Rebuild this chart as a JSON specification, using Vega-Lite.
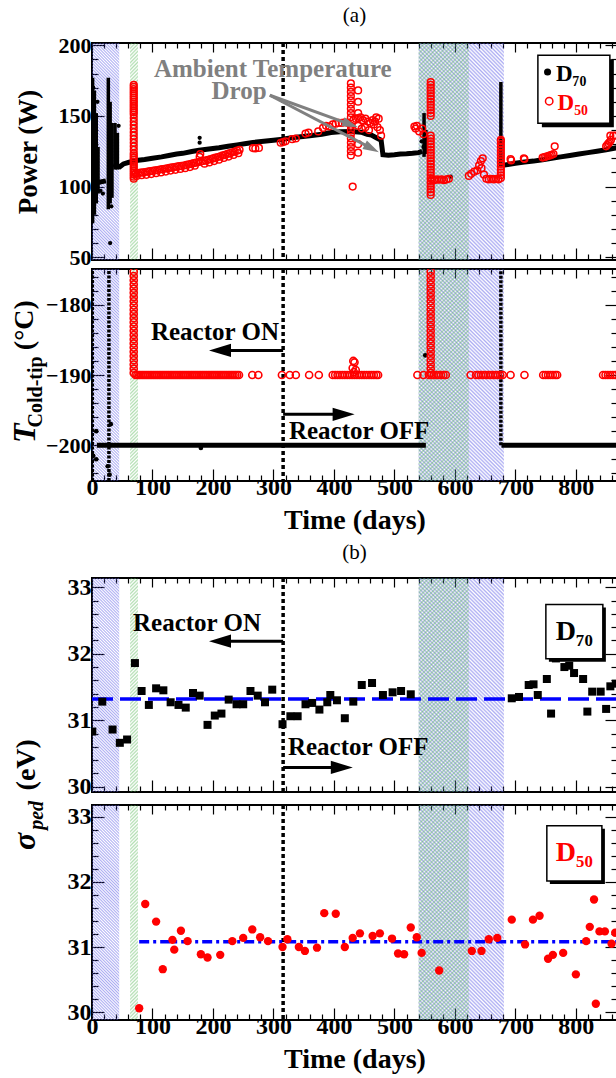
{
"$schema":"https://vega.github.io/schema/vega-lite/v6.json",
"background":"white",
"padding":{"left":8,"top":4,"right":0,"bottom":0},
"params":[
{"name":"hbl","value":{"gradient":"linear","x1":0,"y1":1,"x2":0.141,"y2":-0.11,"stops":[
{"offset":0,"color":"#5a5ae600"},{"offset":0.00625,"color":"#5a5ae680"},{"offset":0.0125,"color":"#5a5ae600"},{"offset":0.01875,"color":"#5a5ae680"},{"offset":0.025,"color":"#5a5ae600"},{"offset":0.03125,"color":"#5a5ae680"},{"offset":0.0375,"color":"#5a5ae600"},{"offset":0.04375,"color":"#5a5ae680"},{"offset":0.05,"color":"#5a5ae600"},{"offset":0.05625,"color":"#5a5ae680"},{"offset":0.0625,"color":"#5a5ae600"},{"offset":0.06875,"color":"#5a5ae680"},{"offset":0.075,"color":"#5a5ae600"},{"offset":0.08125,"color":"#5a5ae680"},{"offset":0.0875,"color":"#5a5ae600"},{"offset":0.09375,"color":"#5a5ae680"},
{"offset":0.1,"color":"#5a5ae600"},{"offset":0.10625,"color":"#5a5ae680"},{"offset":0.1125,"color":"#5a5ae600"},{"offset":0.11875,"color":"#5a5ae680"},{"offset":0.125,"color":"#5a5ae600"},{"offset":0.13125,"color":"#5a5ae680"},{"offset":0.1375,"color":"#5a5ae600"},{"offset":0.14375,"color":"#5a5ae680"},{"offset":0.15,"color":"#5a5ae600"},{"offset":0.15625,"color":"#5a5ae680"},{"offset":0.1625,"color":"#5a5ae600"},{"offset":0.16875,"color":"#5a5ae680"},{"offset":0.175,"color":"#5a5ae600"},{"offset":0.18125,"color":"#5a5ae680"},{"offset":0.1875,"color":"#5a5ae600"},{"offset":0.19375,"color":"#5a5ae680"},
{"offset":0.2,"color":"#5a5ae600"},{"offset":0.20625,"color":"#5a5ae680"},{"offset":0.2125,"color":"#5a5ae600"},{"offset":0.21875,"color":"#5a5ae680"},{"offset":0.225,"color":"#5a5ae600"},{"offset":0.23125,"color":"#5a5ae680"},{"offset":0.2375,"color":"#5a5ae600"},{"offset":0.24375,"color":"#5a5ae680"},{"offset":0.25,"color":"#5a5ae600"},{"offset":0.25625,"color":"#5a5ae680"},{"offset":0.2625,"color":"#5a5ae600"},{"offset":0.26875,"color":"#5a5ae680"},{"offset":0.275,"color":"#5a5ae600"},{"offset":0.28125,"color":"#5a5ae680"},{"offset":0.2875,"color":"#5a5ae600"},{"offset":0.29375,"color":"#5a5ae680"},
{"offset":0.3,"color":"#5a5ae600"},{"offset":0.30625,"color":"#5a5ae680"},{"offset":0.3125,"color":"#5a5ae600"},{"offset":0.31875,"color":"#5a5ae680"},{"offset":0.325,"color":"#5a5ae600"},{"offset":0.33125,"color":"#5a5ae680"},{"offset":0.3375,"color":"#5a5ae600"},{"offset":0.34375,"color":"#5a5ae680"},{"offset":0.35,"color":"#5a5ae600"},{"offset":0.35625,"color":"#5a5ae680"},{"offset":0.3625,"color":"#5a5ae600"},{"offset":0.36875,"color":"#5a5ae680"},{"offset":0.375,"color":"#5a5ae600"},{"offset":0.38125,"color":"#5a5ae680"},{"offset":0.3875,"color":"#5a5ae600"},{"offset":0.39375,"color":"#5a5ae680"},
{"offset":0.4,"color":"#5a5ae600"},{"offset":0.40625,"color":"#5a5ae680"},{"offset":0.4125,"color":"#5a5ae600"},{"offset":0.41875,"color":"#5a5ae680"},{"offset":0.425,"color":"#5a5ae600"},{"offset":0.43125,"color":"#5a5ae680"},{"offset":0.4375,"color":"#5a5ae600"},{"offset":0.44375,"color":"#5a5ae680"},{"offset":0.45,"color":"#5a5ae600"},{"offset":0.45625,"color":"#5a5ae680"},{"offset":0.4625,"color":"#5a5ae600"},{"offset":0.46875,"color":"#5a5ae680"},{"offset":0.475,"color":"#5a5ae600"},{"offset":0.48125,"color":"#5a5ae680"},{"offset":0.4875,"color":"#5a5ae600"},{"offset":0.49375,"color":"#5a5ae680"},
{"offset":0.5,"color":"#5a5ae600"},{"offset":0.50625,"color":"#5a5ae680"},{"offset":0.5125,"color":"#5a5ae600"},{"offset":0.51875,"color":"#5a5ae680"},{"offset":0.525,"color":"#5a5ae600"},{"offset":0.53125,"color":"#5a5ae680"},{"offset":0.5375,"color":"#5a5ae600"},{"offset":0.54375,"color":"#5a5ae680"},{"offset":0.55,"color":"#5a5ae600"},{"offset":0.55625,"color":"#5a5ae680"},{"offset":0.5625,"color":"#5a5ae600"},{"offset":0.56875,"color":"#5a5ae680"},{"offset":0.575,"color":"#5a5ae600"},{"offset":0.58125,"color":"#5a5ae680"},{"offset":0.5875,"color":"#5a5ae600"},{"offset":0.59375,"color":"#5a5ae680"},
{"offset":0.6,"color":"#5a5ae600"},{"offset":0.60625,"color":"#5a5ae680"},{"offset":0.6125,"color":"#5a5ae600"},{"offset":0.61875,"color":"#5a5ae680"},{"offset":0.625,"color":"#5a5ae600"},{"offset":0.63125,"color":"#5a5ae680"},{"offset":0.6375,"color":"#5a5ae600"},{"offset":0.64375,"color":"#5a5ae680"},{"offset":0.65,"color":"#5a5ae600"},{"offset":0.65625,"color":"#5a5ae680"},{"offset":0.6625,"color":"#5a5ae600"},{"offset":0.66875,"color":"#5a5ae680"},{"offset":0.675,"color":"#5a5ae600"},{"offset":0.68125,"color":"#5a5ae680"},{"offset":0.6875,"color":"#5a5ae600"},{"offset":0.69375,"color":"#5a5ae680"},
{"offset":0.7,"color":"#5a5ae600"},{"offset":0.70625,"color":"#5a5ae680"},{"offset":0.7125,"color":"#5a5ae600"},{"offset":0.71875,"color":"#5a5ae680"},{"offset":0.725,"color":"#5a5ae600"},{"offset":0.73125,"color":"#5a5ae680"},{"offset":0.7375,"color":"#5a5ae600"},{"offset":0.74375,"color":"#5a5ae680"},{"offset":0.75,"color":"#5a5ae600"},{"offset":0.75625,"color":"#5a5ae680"},{"offset":0.7625,"color":"#5a5ae600"},{"offset":0.76875,"color":"#5a5ae680"},{"offset":0.775,"color":"#5a5ae600"},{"offset":0.78125,"color":"#5a5ae680"},{"offset":0.7875,"color":"#5a5ae600"},{"offset":0.79375,"color":"#5a5ae680"},
{"offset":0.8,"color":"#5a5ae600"},{"offset":0.80625,"color":"#5a5ae680"},{"offset":0.8125,"color":"#5a5ae600"},{"offset":0.81875,"color":"#5a5ae680"},{"offset":0.825,"color":"#5a5ae600"},{"offset":0.83125,"color":"#5a5ae680"},{"offset":0.8375,"color":"#5a5ae600"},{"offset":0.84375,"color":"#5a5ae680"},{"offset":0.85,"color":"#5a5ae600"},{"offset":0.85625,"color":"#5a5ae680"},{"offset":0.8625,"color":"#5a5ae600"},{"offset":0.86875,"color":"#5a5ae680"},{"offset":0.875,"color":"#5a5ae600"},{"offset":0.88125,"color":"#5a5ae680"},{"offset":0.8875,"color":"#5a5ae600"},{"offset":0.89375,"color":"#5a5ae680"},
{"offset":0.9,"color":"#5a5ae600"},{"offset":0.90625,"color":"#5a5ae680"},{"offset":0.9125,"color":"#5a5ae600"},{"offset":0.91875,"color":"#5a5ae680"},{"offset":0.925,"color":"#5a5ae600"},{"offset":0.93125,"color":"#5a5ae680"},{"offset":0.9375,"color":"#5a5ae600"},{"offset":0.94375,"color":"#5a5ae680"},{"offset":0.95,"color":"#5a5ae600"},{"offset":0.95625,"color":"#5a5ae680"},{"offset":0.9625,"color":"#5a5ae600"},{"offset":0.96875,"color":"#5a5ae680"},{"offset":0.975,"color":"#5a5ae600"},{"offset":0.98125,"color":"#5a5ae680"},{"offset":0.9875,"color":"#5a5ae600"},{"offset":0.99375,"color":"#5a5ae680"},{"offset":1,"color":"#5a5ae600"}]}},
{"name":"hbr","value":{"gradient":"linear","x1":0,"y1":1,"x2":0.481,"y2":-0.207,"stops":[
{"offset":0,"color":"#5a5ae600"},{"offset":0.00625,"color":"#5a5ae680"},{"offset":0.0125,"color":"#5a5ae600"},{"offset":0.01875,"color":"#5a5ae680"},{"offset":0.025,"color":"#5a5ae600"},{"offset":0.03125,"color":"#5a5ae680"},{"offset":0.0375,"color":"#5a5ae600"},{"offset":0.04375,"color":"#5a5ae680"},{"offset":0.05,"color":"#5a5ae600"},{"offset":0.05625,"color":"#5a5ae680"},{"offset":0.0625,"color":"#5a5ae600"},{"offset":0.06875,"color":"#5a5ae680"},{"offset":0.075,"color":"#5a5ae600"},{"offset":0.08125,"color":"#5a5ae680"},{"offset":0.0875,"color":"#5a5ae600"},{"offset":0.09375,"color":"#5a5ae680"},
{"offset":0.1,"color":"#5a5ae600"},{"offset":0.10625,"color":"#5a5ae680"},{"offset":0.1125,"color":"#5a5ae600"},{"offset":0.11875,"color":"#5a5ae680"},{"offset":0.125,"color":"#5a5ae600"},{"offset":0.13125,"color":"#5a5ae680"},{"offset":0.1375,"color":"#5a5ae600"},{"offset":0.14375,"color":"#5a5ae680"},{"offset":0.15,"color":"#5a5ae600"},{"offset":0.15625,"color":"#5a5ae680"},{"offset":0.1625,"color":"#5a5ae600"},{"offset":0.16875,"color":"#5a5ae680"},{"offset":0.175,"color":"#5a5ae600"},{"offset":0.18125,"color":"#5a5ae680"},{"offset":0.1875,"color":"#5a5ae600"},{"offset":0.19375,"color":"#5a5ae680"},
{"offset":0.2,"color":"#5a5ae600"},{"offset":0.20625,"color":"#5a5ae680"},{"offset":0.2125,"color":"#5a5ae600"},{"offset":0.21875,"color":"#5a5ae680"},{"offset":0.225,"color":"#5a5ae600"},{"offset":0.23125,"color":"#5a5ae680"},{"offset":0.2375,"color":"#5a5ae600"},{"offset":0.24375,"color":"#5a5ae680"},{"offset":0.25,"color":"#5a5ae600"},{"offset":0.25625,"color":"#5a5ae680"},{"offset":0.2625,"color":"#5a5ae600"},{"offset":0.26875,"color":"#5a5ae680"},{"offset":0.275,"color":"#5a5ae600"},{"offset":0.28125,"color":"#5a5ae680"},{"offset":0.2875,"color":"#5a5ae600"},{"offset":0.29375,"color":"#5a5ae680"},
{"offset":0.3,"color":"#5a5ae600"},{"offset":0.30625,"color":"#5a5ae680"},{"offset":0.3125,"color":"#5a5ae600"},{"offset":0.31875,"color":"#5a5ae680"},{"offset":0.325,"color":"#5a5ae600"},{"offset":0.33125,"color":"#5a5ae680"},{"offset":0.3375,"color":"#5a5ae600"},{"offset":0.34375,"color":"#5a5ae680"},{"offset":0.35,"color":"#5a5ae600"},{"offset":0.35625,"color":"#5a5ae680"},{"offset":0.3625,"color":"#5a5ae600"},{"offset":0.36875,"color":"#5a5ae680"},{"offset":0.375,"color":"#5a5ae600"},{"offset":0.38125,"color":"#5a5ae680"},{"offset":0.3875,"color":"#5a5ae600"},{"offset":0.39375,"color":"#5a5ae680"},
{"offset":0.4,"color":"#5a5ae600"},{"offset":0.40625,"color":"#5a5ae680"},{"offset":0.4125,"color":"#5a5ae600"},{"offset":0.41875,"color":"#5a5ae680"},{"offset":0.425,"color":"#5a5ae600"},{"offset":0.43125,"color":"#5a5ae680"},{"offset":0.4375,"color":"#5a5ae600"},{"offset":0.44375,"color":"#5a5ae680"},{"offset":0.45,"color":"#5a5ae600"},{"offset":0.45625,"color":"#5a5ae680"},{"offset":0.4625,"color":"#5a5ae600"},{"offset":0.46875,"color":"#5a5ae680"},{"offset":0.475,"color":"#5a5ae600"},{"offset":0.48125,"color":"#5a5ae680"},{"offset":0.4875,"color":"#5a5ae600"},{"offset":0.49375,"color":"#5a5ae680"},
{"offset":0.5,"color":"#5a5ae600"},{"offset":0.50625,"color":"#5a5ae680"},{"offset":0.5125,"color":"#5a5ae600"},{"offset":0.51875,"color":"#5a5ae680"},{"offset":0.525,"color":"#5a5ae600"},{"offset":0.53125,"color":"#5a5ae680"},{"offset":0.5375,"color":"#5a5ae600"},{"offset":0.54375,"color":"#5a5ae680"},{"offset":0.55,"color":"#5a5ae600"},{"offset":0.55625,"color":"#5a5ae680"},{"offset":0.5625,"color":"#5a5ae600"},{"offset":0.56875,"color":"#5a5ae680"},{"offset":0.575,"color":"#5a5ae600"},{"offset":0.58125,"color":"#5a5ae680"},{"offset":0.5875,"color":"#5a5ae600"},{"offset":0.59375,"color":"#5a5ae680"},
{"offset":0.6,"color":"#5a5ae600"},{"offset":0.60625,"color":"#5a5ae680"},{"offset":0.6125,"color":"#5a5ae600"},{"offset":0.61875,"color":"#5a5ae680"},{"offset":0.625,"color":"#5a5ae600"},{"offset":0.63125,"color":"#5a5ae680"},{"offset":0.6375,"color":"#5a5ae600"},{"offset":0.64375,"color":"#5a5ae680"},{"offset":0.65,"color":"#5a5ae600"},{"offset":0.65625,"color":"#5a5ae680"},{"offset":0.6625,"color":"#5a5ae600"},{"offset":0.66875,"color":"#5a5ae680"},{"offset":0.675,"color":"#5a5ae600"},{"offset":0.68125,"color":"#5a5ae680"},{"offset":0.6875,"color":"#5a5ae600"},{"offset":0.69375,"color":"#5a5ae680"},
{"offset":0.7,"color":"#5a5ae600"},{"offset":0.70625,"color":"#5a5ae680"},{"offset":0.7125,"color":"#5a5ae600"},{"offset":0.71875,"color":"#5a5ae680"},{"offset":0.725,"color":"#5a5ae600"},{"offset":0.73125,"color":"#5a5ae680"},{"offset":0.7375,"color":"#5a5ae600"},{"offset":0.74375,"color":"#5a5ae680"},{"offset":0.75,"color":"#5a5ae600"},{"offset":0.75625,"color":"#5a5ae680"},{"offset":0.7625,"color":"#5a5ae600"},{"offset":0.76875,"color":"#5a5ae680"},{"offset":0.775,"color":"#5a5ae600"},{"offset":0.78125,"color":"#5a5ae680"},{"offset":0.7875,"color":"#5a5ae600"},{"offset":0.79375,"color":"#5a5ae680"},
{"offset":0.8,"color":"#5a5ae600"},{"offset":0.80625,"color":"#5a5ae680"},{"offset":0.8125,"color":"#5a5ae600"},{"offset":0.81875,"color":"#5a5ae680"},{"offset":0.825,"color":"#5a5ae600"},{"offset":0.83125,"color":"#5a5ae680"},{"offset":0.8375,"color":"#5a5ae600"},{"offset":0.84375,"color":"#5a5ae680"},{"offset":0.85,"color":"#5a5ae600"},{"offset":0.85625,"color":"#5a5ae680"},{"offset":0.8625,"color":"#5a5ae600"},{"offset":0.86875,"color":"#5a5ae680"},{"offset":0.875,"color":"#5a5ae600"},{"offset":0.88125,"color":"#5a5ae680"},{"offset":0.8875,"color":"#5a5ae600"},{"offset":0.89375,"color":"#5a5ae680"},
{"offset":0.9,"color":"#5a5ae600"},{"offset":0.90625,"color":"#5a5ae680"},{"offset":0.9125,"color":"#5a5ae600"},{"offset":0.91875,"color":"#5a5ae680"},{"offset":0.925,"color":"#5a5ae600"},{"offset":0.93125,"color":"#5a5ae680"},{"offset":0.9375,"color":"#5a5ae600"},{"offset":0.94375,"color":"#5a5ae680"},{"offset":0.95,"color":"#5a5ae600"},{"offset":0.95625,"color":"#5a5ae680"},{"offset":0.9625,"color":"#5a5ae600"},{"offset":0.96875,"color":"#5a5ae680"},{"offset":0.975,"color":"#5a5ae600"},{"offset":0.98125,"color":"#5a5ae680"},{"offset":0.9875,"color":"#5a5ae600"},{"offset":0.99375,"color":"#5a5ae680"},{"offset":1,"color":"#5a5ae600"}]}},
{"name":"hgl","value":{"gradient":"linear","x1":0,"y1":0,"x2":0.0382,"y2":1.035,"stops":[
{"offset":0,"color":"#50b45000"},{"offset":0.008,"color":"#50b45070"},{"offset":0.016,"color":"#50b45000"},{"offset":0.024,"color":"#50b45070"},{"offset":0.032,"color":"#50b45000"},{"offset":0.04,"color":"#50b45070"},{"offset":0.048,"color":"#50b45000"},{"offset":0.056,"color":"#50b45070"},{"offset":0.064,"color":"#50b45000"},{"offset":0.072,"color":"#50b45070"},{"offset":0.08,"color":"#50b45000"},{"offset":0.088,"color":"#50b45070"},{"offset":0.096,"color":"#50b45000"},{"offset":0.104,"color":"#50b45070"},{"offset":0.112,"color":"#50b45000"},{"offset":0.12,"color":"#50b45070"},{"offset":0.128,"color":"#50b45000"},{"offset":0.136,"color":"#50b45070"},{"offset":0.144,"color":"#50b45000"},{"offset":0.152,"color":"#50b45070"},{"offset":0.16,"color":"#50b45000"},{"offset":0.168,"color":"#50b45070"},{"offset":0.176,"color":"#50b45000"},{"offset":0.184,"color":"#50b45070"},{"offset":0.192,"color":"#50b45000"},{"offset":0.2,"color":"#50b45070"},{"offset":0.208,"color":"#50b45000"},{"offset":0.216,"color":"#50b45070"},{"offset":0.224,"color":"#50b45000"},{"offset":0.232,"color":"#50b45070"},{"offset":0.24,"color":"#50b45000"},{"offset":0.248,"color":"#50b45070"},{"offset":0.256,"color":"#50b45000"},{"offset":0.264,"color":"#50b45070"},{"offset":0.272,"color":"#50b45000"},{"offset":0.28,"color":"#50b45070"},{"offset":0.288,"color":"#50b45000"},{"offset":0.296,"color":"#50b45070"},{"offset":0.304,"color":"#50b45000"},{"offset":0.312,"color":"#50b45070"},{"offset":0.32,"color":"#50b45000"},{"offset":0.328,"color":"#50b45070"},{"offset":0.336,"color":"#50b45000"},{"offset":0.344,"color":"#50b45070"},{"offset":0.352,"color":"#50b45000"},{"offset":0.36,"color":"#50b45070"},{"offset":0.368,"color":"#50b45000"},{"offset":0.376,"color":"#50b45070"},{"offset":0.384,"color":"#50b45000"},{"offset":0.392,"color":"#50b45070"},{"offset":0.4,"color":"#50b45000"},{"offset":0.408,"color":"#50b45070"},{"offset":0.416,"color":"#50b45000"},{"offset":0.424,"color":"#50b45070"},{"offset":0.432,"color":"#50b45000"},{"offset":0.44,"color":"#50b45070"},{"offset":0.448,"color":"#50b45000"},{"offset":0.456,"color":"#50b45070"},{"offset":0.464,"color":"#50b45000"},{"offset":0.472,"color":"#50b45070"},{"offset":0.48,"color":"#50b45000"},{"offset":0.488,"color":"#50b45070"},{"offset":0.496,"color":"#50b45000"},{"offset":0.504,"color":"#50b45070"},{"offset":0.512,"color":"#50b45000"},{"offset":0.52,"color":"#50b45070"},{"offset":0.528,"color":"#50b45000"},{"offset":0.536,"color":"#50b45070"},{"offset":0.544,"color":"#50b45000"},{"offset":0.552,"color":"#50b45070"},{"offset":0.56,"color":"#50b45000"},{"offset":0.568,"color":"#50b45070"},{"offset":0.576,"color":"#50b45000"},{"offset":0.584,"color":"#50b45070"},{"offset":0.592,"color":"#50b45000"},{"offset":0.6,"color":"#50b45070"},{"offset":0.608,"color":"#50b45000"},{"offset":0.616,"color":"#50b45070"},{"offset":0.624,"color":"#50b45000"},{"offset":0.632,"color":"#50b45070"},{"offset":0.64,"color":"#50b45000"},{"offset":0.648,"color":"#50b45070"},{"offset":0.656,"color":"#50b45000"},{"offset":0.664,"color":"#50b45070"},{"offset":0.672,"color":"#50b45000"},{"offset":0.68,"color":"#50b45070"},{"offset":0.688,"color":"#50b45000"},{"offset":0.696,"color":"#50b45070"},{"offset":0.704,"color":"#50b45000"},{"offset":0.712,"color":"#50b45070"},{"offset":0.72,"color":"#50b45000"},{"offset":0.728,"color":"#50b45070"},{"offset":0.736,"color":"#50b45000"},{"offset":0.744,"color":"#50b45070"},{"offset":0.752,"color":"#50b45000"},{"offset":0.76,"color":"#50b45070"},{"offset":0.768,"color":"#50b45000"},{"offset":0.776,"color":"#50b45070"},{"offset":0.784,"color":"#50b45000"},{"offset":0.792,"color":"#50b45070"},{"offset":0.8,"color":"#50b45000"},{"offset":0.808,"color":"#50b45070"},{"offset":0.816,"color":"#50b45000"},{"offset":0.824,"color":"#50b45070"},{"offset":0.832,"color":"#50b45000"},{"offset":0.84,"color":"#50b45070"},{"offset":0.848,"color":"#50b45000"},{"offset":0.856,"color":"#50b45070"},{"offset":0.864,"color":"#50b45000"},{"offset":0.872,"color":"#50b45070"},{"offset":0.88,"color":"#50b45000"},{"offset":0.888,"color":"#50b45070"},{"offset":0.896,"color":"#50b45000"},{"offset":0.904,"color":"#50b45070"},{"offset":0.912,"color":"#50b45000"},{"offset":0.92,"color":"#50b45070"},{"offset":0.928,"color":"#50b45000"},{"offset":0.936,"color":"#50b45070"},{"offset":0.944,"color":"#50b45000"},{"offset":0.952,"color":"#50b45070"},{"offset":0.96,"color":"#50b45000"},{"offset":0.968,"color":"#50b45070"},{"offset":0.976,"color":"#50b45000"},{"offset":0.984,"color":"#50b45070"},{"offset":0.992,"color":"#50b45000"},{"offset":1,"color":"#50b45070"}]}},
{"name":"hgr","value":{"gradient":"linear","x1":0,"y1":0,"x2":0.2745,"y2":1.17,"stops":[
{"offset":0,"color":"#50b45000"},{"offset":0.008,"color":"#50b45070"},{"offset":0.016,"color":"#50b45000"},{"offset":0.024,"color":"#50b45070"},{"offset":0.032,"color":"#50b45000"},{"offset":0.04,"color":"#50b45070"},{"offset":0.048,"color":"#50b45000"},{"offset":0.056,"color":"#50b45070"},{"offset":0.064,"color":"#50b45000"},{"offset":0.072,"color":"#50b45070"},{"offset":0.08,"color":"#50b45000"},{"offset":0.088,"color":"#50b45070"},{"offset":0.096,"color":"#50b45000"},{"offset":0.104,"color":"#50b45070"},{"offset":0.112,"color":"#50b45000"},{"offset":0.12,"color":"#50b45070"},{"offset":0.128,"color":"#50b45000"},{"offset":0.136,"color":"#50b45070"},{"offset":0.144,"color":"#50b45000"},{"offset":0.152,"color":"#50b45070"},{"offset":0.16,"color":"#50b45000"},{"offset":0.168,"color":"#50b45070"},{"offset":0.176,"color":"#50b45000"},{"offset":0.184,"color":"#50b45070"},{"offset":0.192,"color":"#50b45000"},{"offset":0.2,"color":"#50b45070"},{"offset":0.208,"color":"#50b45000"},{"offset":0.216,"color":"#50b45070"},{"offset":0.224,"color":"#50b45000"},{"offset":0.232,"color":"#50b45070"},{"offset":0.24,"color":"#50b45000"},{"offset":0.248,"color":"#50b45070"},{"offset":0.256,"color":"#50b45000"},{"offset":0.264,"color":"#50b45070"},{"offset":0.272,"color":"#50b45000"},{"offset":0.28,"color":"#50b45070"},{"offset":0.288,"color":"#50b45000"},{"offset":0.296,"color":"#50b45070"},{"offset":0.304,"color":"#50b45000"},{"offset":0.312,"color":"#50b45070"},{"offset":0.32,"color":"#50b45000"},{"offset":0.328,"color":"#50b45070"},{"offset":0.336,"color":"#50b45000"},{"offset":0.344,"color":"#50b45070"},{"offset":0.352,"color":"#50b45000"},{"offset":0.36,"color":"#50b45070"},{"offset":0.368,"color":"#50b45000"},{"offset":0.376,"color":"#50b45070"},{"offset":0.384,"color":"#50b45000"},{"offset":0.392,"color":"#50b45070"},{"offset":0.4,"color":"#50b45000"},{"offset":0.408,"color":"#50b45070"},{"offset":0.416,"color":"#50b45000"},{"offset":0.424,"color":"#50b45070"},{"offset":0.432,"color":"#50b45000"},{"offset":0.44,"color":"#50b45070"},{"offset":0.448,"color":"#50b45000"},{"offset":0.456,"color":"#50b45070"},{"offset":0.464,"color":"#50b45000"},{"offset":0.472,"color":"#50b45070"},{"offset":0.48,"color":"#50b45000"},{"offset":0.488,"color":"#50b45070"},{"offset":0.496,"color":"#50b45000"},{"offset":0.504,"color":"#50b45070"},{"offset":0.512,"color":"#50b45000"},{"offset":0.52,"color":"#50b45070"},{"offset":0.528,"color":"#50b45000"},{"offset":0.536,"color":"#50b45070"},{"offset":0.544,"color":"#50b45000"},{"offset":0.552,"color":"#50b45070"},{"offset":0.56,"color":"#50b45000"},{"offset":0.568,"color":"#50b45070"},{"offset":0.576,"color":"#50b45000"},{"offset":0.584,"color":"#50b45070"},{"offset":0.592,"color":"#50b45000"},{"offset":0.6,"color":"#50b45070"},{"offset":0.608,"color":"#50b45000"},{"offset":0.616,"color":"#50b45070"},{"offset":0.624,"color":"#50b45000"},{"offset":0.632,"color":"#50b45070"},{"offset":0.64,"color":"#50b45000"},{"offset":0.648,"color":"#50b45070"},{"offset":0.656,"color":"#50b45000"},{"offset":0.664,"color":"#50b45070"},{"offset":0.672,"color":"#50b45000"},{"offset":0.68,"color":"#50b45070"},{"offset":0.688,"color":"#50b45000"},{"offset":0.696,"color":"#50b45070"},{"offset":0.704,"color":"#50b45000"},{"offset":0.712,"color":"#50b45070"},{"offset":0.72,"color":"#50b45000"},{"offset":0.728,"color":"#50b45070"},{"offset":0.736,"color":"#50b45000"},{"offset":0.744,"color":"#50b45070"},{"offset":0.752,"color":"#50b45000"},{"offset":0.76,"color":"#50b45070"},{"offset":0.768,"color":"#50b45000"},{"offset":0.776,"color":"#50b45070"},{"offset":0.784,"color":"#50b45000"},{"offset":0.792,"color":"#50b45070"},{"offset":0.8,"color":"#50b45000"},{"offset":0.808,"color":"#50b45070"},{"offset":0.816,"color":"#50b45000"},{"offset":0.824,"color":"#50b45070"},{"offset":0.832,"color":"#50b45000"},{"offset":0.84,"color":"#50b45070"},{"offset":0.848,"color":"#50b45000"},{"offset":0.856,"color":"#50b45070"},{"offset":0.864,"color":"#50b45000"},{"offset":0.872,"color":"#50b45070"},{"offset":0.88,"color":"#50b45000"},{"offset":0.888,"color":"#50b45070"},{"offset":0.896,"color":"#50b45000"},{"offset":0.904,"color":"#50b45070"},{"offset":0.912,"color":"#50b45000"},{"offset":0.92,"color":"#50b45070"},{"offset":0.928,"color":"#50b45000"},{"offset":0.936,"color":"#50b45070"},{"offset":0.944,"color":"#50b45000"},{"offset":0.952,"color":"#50b45070"},{"offset":0.96,"color":"#50b45000"},{"offset":0.968,"color":"#50b45070"},{"offset":0.976,"color":"#50b45000"},{"offset":0.984,"color":"#50b45070"},{"offset":0.992,"color":"#50b45000"},{"offset":1,"color":"#50b45070"}]}}
],
"datasets":{
"pw70line":[{"t":3,"v":103.5,"g":1},{"t":12,"v":103,"g":1},{"t":23,"v":104,"g":1},
{"t":36,"v":116,"g":2},{"t":41,"v":114.5,"g":2},{"t":46,"v":114,"g":2},{"t":52,"v":116,"g":2},{"t":60,"v":117,"g":2},{"t":73,"v":118.5,"g":2},{"t":87,"v":119.2,"g":2},{"t":100,"v":120,"g":2},{"t":115,"v":121,"g":2},{"t":127,"v":122,"g":2},{"t":140,"v":123,"g":2},{"t":150,"v":123.5,"g":2},{"t":165,"v":124.8,"g":2},{"t":177,"v":125.7,"g":2},{"t":190,"v":126.4,"g":2},{"t":210,"v":127.5,"g":2},{"t":225,"v":128.5,"g":2},{"t":240,"v":129.5,"g":2},{"t":255,"v":130.5,"g":2},{"t":266,"v":131.2,"g":2},{"t":280,"v":131.8,"g":2},{"t":300,"v":132.8,"g":2},{"t":315,"v":133.5,"g":2},{"t":330,"v":134.5,"g":2},{"t":345,"v":135.3,"g":2},{"t":360,"v":136,"g":2},{"t":380,"v":137,"g":2},{"t":395,"v":138.3,"g":2},{"t":410,"v":138.8,"g":2},{"t":430,"v":139,"g":2},{"t":445,"v":138.5,"g":2},{"t":455,"v":137,"g":2},{"t":462,"v":136.4,"g":2},{"t":470,"v":134.5,"g":2},{"t":478,"v":132.8,"g":2},{"t":481,"v":122.5,"g":2},{"t":490,"v":122.2,"g":2},{"t":500,"v":122.5,"g":2},{"t":510,"v":123,"g":2},{"t":520,"v":123.2,"g":2},{"t":530,"v":123.5,"g":2},{"t":540,"v":124,"g":2},{"t":546,"v":125,"g":2},
{"t":679,"v":115,"g":3},{"t":690,"v":115.8,"g":3},{"t":700,"v":116.5,"g":3},{"t":715,"v":117.3,"g":3},{"t":730,"v":118,"g":3},{"t":745,"v":119,"g":3},{"t":760,"v":120,"g":3},{"t":775,"v":121,"g":3},{"t":790,"v":122,"g":3},{"t":805,"v":123,"g":3},{"t":820,"v":124,"g":3},{"t":835,"v":125,"g":3},{"t":850,"v":126,"g":3},{"t":868,"v":127.5,"g":3}],
"pw70rule":[{"t":1,"v":74,"v2":177},{"t":4,"v":80,"v2":168},{"t":7,"v":88,"v2":152},{"t":10,"v":95,"v2":128},{"t":27,"v":84,"v2":177},{"t":30,"v":88,"v2":160},{"t":33,"v":92,"v2":145},{"t":38,"v":112,"v2":145},{"t":42,"v":112,"v2":138},{"t":549,"v":121,"v2":152},{"t":552,"v":123,"v2":140},{"t":676,"v":114,"v2":174}],
"pw70pt":[{"t":0,"v":76},{"t":30,"v":60},{"t":32,"v":86},{"t":178,"v":134.5},{"t":178,"v":131},{"t":593,"v":107},{"t":2,"v":170},{"t":9,"v":160},{"t":14,"v":97},{"t":18,"v":95},{"t":44,"v":143},{"t":545,"v":132},{"t":548,"v":128}],
"pw50":[{"t":69,"v":172},{"t":69,"v":170.5},{"t":69,"v":169},{"t":69,"v":167.5},{"t":69,"v":166},{"t":69,"v":164.5},{"t":69,"v":163},{"t":69,"v":161.5},{"t":69,"v":160},{"t":69,"v":158.5},{"t":69,"v":157},{"t":69,"v":155.5},{"t":69,"v":154},{"t":69,"v":152.5},{"t":69,"v":151},{"t":69,"v":148.5},{"t":69,"v":146},{"t":69,"v":143.5},{"t":69,"v":141},{"t":69,"v":138.5},{"t":69,"v":136},{"t":69,"v":133.5},{"t":69,"v":131},{"t":69,"v":128.5},{"t":69,"v":126},{"t":69,"v":123.5},{"t":69,"v":122},{"t":69,"v":120.5},{"t":69,"v":119},{"t":69,"v":117.5},{"t":69,"v":116},{"t":69,"v":114.5},{"t":69,"v":113},{"t":69,"v":111.5},{"t":69,"v":110},{"t":69,"v":108.5},{"t":69,"v":107},{"t":69,"v":105.5},
{"t":72,"v":109.3},{"t":76,"v":109.5},{"t":80,"v":109.8},{"t":84,"v":110},{"t":88,"v":110.3},{"t":92,"v":110.6},{"t":96,"v":110.9},{"t":100,"v":111.1},{"t":104,"v":111.4},{"t":108,"v":111.7},{"t":112,"v":112},{"t":116,"v":112.3},{"t":120,"v":112.6},{"t":124,"v":112.9},{"t":128,"v":113.2},{"t":132,"v":113.5},{"t":136,"v":113.8},{"t":140,"v":114.1},{"t":144,"v":114.4},{"t":148,"v":114.6},{"t":152,"v":114.9},{"t":156,"v":115.3},{"t":160,"v":115.7},{"t":164,"v":116.1},{"t":168,"v":116.5},{"t":172,"v":116.9},{"t":176,"v":117.3},{"t":178,"v":121},{"t":179,"v":123},{"t":180,"v":117.7},{"t":184,"v":118.1},{"t":188,"v":118.5},{"t":192,"v":118.9},{"t":196,"v":119.4},{"t":200,"v":119.9},{"t":204,"v":120.4},{"t":208,"v":120.9},{"t":212,"v":121.4},{"t":216,"v":122},{"t":220,"v":122.5},{"t":224,"v":123.1},{"t":228,"v":123.6},{"t":232,"v":124.2},{"t":236,"v":124.8},{"t":240,"v":125.4},{"t":244,"v":126},
{"t":74,"v":107.5},{"t":82,"v":108},{"t":90,"v":108.3},{"t":98,"v":108.8},{"t":106,"v":109.4},{"t":114,"v":110},{"t":122,"v":110.6},{"t":130,"v":111.3},{"t":138,"v":111.8},{"t":146,"v":112.4},{"t":154,"v":113},{"t":162,"v":113.8},{"t":170,"v":114.7},{"t":186,"v":116.2},{"t":194,"v":117},{"t":202,"v":118},{"t":210,"v":119},{"t":218,"v":120.2},{"t":226,"v":121.2},{"t":234,"v":122.4},{"t":242,"v":123.6},
{"t":266,"v":127.2},{"t":270,"v":127},{"t":276,"v":127.3},{"t":312,"v":131},{"t":316,"v":131.5},{"t":320,"v":132},{"t":331,"v":133.5},{"t":337,"v":134},{"t":353,"v":137.5},{"t":358,"v":138.2},{"t":374,"v":139},{"t":382,"v":141.5},{"t":387,"v":143},{"t":392,"v":142.5},{"t":398,"v":144},{"t":403,"v":144.5},{"t":408,"v":145},{"t":413,"v":145},{"t":418,"v":145.5},{"t":423,"v":145},
{"t":428,"v":173},{"t":428,"v":170},{"t":428,"v":167},{"t":428,"v":164},{"t":428,"v":161},{"t":428,"v":158},{"t":428,"v":155},{"t":428,"v":152},{"t":428,"v":149},{"t":428,"v":143},{"t":428,"v":140},{"t":428,"v":137},{"t":428,"v":134},{"t":428,"v":131},{"t":428,"v":128},{"t":428,"v":125},{"t":428,"v":122},{"t":440,"v":168},{"t":440,"v":160},{"t":440,"v":152},{"t":440,"v":130},{"t":440,"v":124},{"t":431,"v":100},
{"t":432,"v":147},{"t":436,"v":148},{"t":440,"v":148.5},{"t":444,"v":149},{"t":448,"v":147},{"t":452,"v":148},{"t":456,"v":146},{"t":460,"v":145},{"t":464,"v":147},{"t":468,"v":146},{"t":472,"v":142},{"t":476,"v":140},{"t":478,"v":136},{"t":440,"v":143},{"t":446,"v":141},{"t":452,"v":142},{"t":458,"v":140},{"t":466,"v":144},{"t":470,"v":149},{"t":474,"v":148},
{"t":533,"v":142.5},{"t":535,"v":141},{"t":537,"v":143},{"t":541,"v":139},{"t":546,"v":141},{"t":548,"v":137},
{"t":560,"v":174},{"t":560,"v":172},{"t":560,"v":170},{"t":560,"v":168},{"t":560,"v":166},{"t":560,"v":164},{"t":560,"v":162},{"t":560,"v":160},{"t":560,"v":158},{"t":560,"v":156},{"t":560,"v":154},{"t":560,"v":152},{"t":560,"v":150},
{"t":560,"v":136},{"t":560,"v":134},{"t":560,"v":132},{"t":560,"v":130},{"t":560,"v":128},{"t":560,"v":126},{"t":560,"v":124},{"t":560,"v":122},{"t":560,"v":120},{"t":560,"v":118},{"t":560,"v":116},{"t":560,"v":114},{"t":560,"v":112},{"t":560,"v":110},{"t":560,"v":108},{"t":560,"v":106},{"t":560,"v":104},{"t":560,"v":102},{"t":560,"v":100},{"t":560,"v":98},{"t":560,"v":96},{"t":560,"v":94},
{"t":562,"v":105},{"t":566,"v":104.5},{"t":570,"v":105},{"t":574,"v":104.8},{"t":578,"v":105},{"t":582,"v":104.5},{"t":586,"v":105},{"t":590,"v":105.5},
{"t":623,"v":107.5},{"t":627,"v":109},{"t":632,"v":110.5},{"t":637,"v":111.5},{"t":640,"v":115},{"t":643,"v":118},{"t":646,"v":120},{"t":644,"v":113},{"t":648,"v":108.5},{"t":652,"v":105.5},{"t":656,"v":105},{"t":660,"v":105.5},{"t":664,"v":105},{"t":668,"v":105.5},{"t":672,"v":105},{"t":676,"v":106},
{"t":676,"v":108},{"t":676,"v":110},{"t":676,"v":112},{"t":676,"v":114},{"t":676,"v":116},{"t":676,"v":118},{"t":676,"v":120},{"t":676,"v":122},{"t":676,"v":124},{"t":676,"v":126},{"t":676,"v":128},{"t":676,"v":130},{"t":676,"v":132},{"t":676,"v":133},
{"t":692,"v":119.5},{"t":693,"v":118.5},{"t":714,"v":120},{"t":715,"v":119.5},{"t":745,"v":120.5},{"t":748,"v":120.8},{"t":751,"v":121.2},{"t":754,"v":121.6},{"t":757,"v":122},{"t":760,"v":122.5},{"t":763,"v":123},{"t":765,"v":128.5},{"t":850,"v":128.5},{"t":852,"v":129.5},{"t":854,"v":130.5},{"t":856,"v":131.5},{"t":858,"v":133},{"t":857,"v":136},{"t":862,"v":136},{"t":866,"v":136}],
"tc70line":[{"t":8,"v":-200,"g":1},{"t":552,"v":-200,"g":1},{"t":677,"v":-200,"g":2},{"t":868,"v":-200,"g":2}],
"tc70rule":[{"t":0.5,"v":-205.1,"v2":-174.9},{"t":28,"v":-205.1,"v2":-174.9},{"t":676,"v":-200,"v2":-174.9}],
"tc70pt":[{"t":7,"v":-198},{"t":7,"v":-202},{"t":26,"v":-203},{"t":29,"v":-204.2},{"t":31,"v":-197},{"t":180,"v":-200.4},{"t":551,"v":-187.2},{"t":2,"v":-201.5}],
"tc50":[{"t":69,"v":-175.3},{"t":69,"v":-175.9},{"t":69,"v":-176.5},{"t":69,"v":-177.1},{"t":69,"v":-177.7},{"t":69,"v":-178.3},{"t":69,"v":-178.9},{"t":69,"v":-179.5},{"t":69,"v":-180.1},{"t":69,"v":-180.7},{"t":69,"v":-181.3},{"t":69,"v":-181.9},{"t":69,"v":-182.5},{"t":69,"v":-183.1},{"t":69,"v":-183.7},{"t":69,"v":-184.3},{"t":69,"v":-184.9},{"t":69,"v":-185.5},{"t":69,"v":-186.1},{"t":69,"v":-186.7},{"t":69,"v":-187.3},{"t":69,"v":-187.9},{"t":69,"v":-188.5},{"t":69,"v":-189.1},{"t":69,"v":-189.7},
{"t":560,"v":-175.3},{"t":560,"v":-175.9},{"t":560,"v":-176.5},{"t":560,"v":-177.1},{"t":560,"v":-177.7},{"t":560,"v":-178.3},{"t":560,"v":-178.9},{"t":560,"v":-179.5},{"t":560,"v":-180.1},{"t":560,"v":-180.7},{"t":560,"v":-181.3},{"t":560,"v":-181.9},{"t":560,"v":-182.5},{"t":560,"v":-183.1},{"t":560,"v":-183.7},{"t":560,"v":-184.3},{"t":560,"v":-184.9},{"t":560,"v":-185.5},{"t":560,"v":-186.1},{"t":560,"v":-186.7},{"t":560,"v":-187.3},{"t":560,"v":-187.9},{"t":560,"v":-188.5},{"t":560,"v":-189.1},{"t":560,"v":-189.7},
{"t":72,"v":-190},{"t":75,"v":-190},{"t":78,"v":-190},{"t":81,"v":-190},{"t":84,"v":-190},{"t":87,"v":-190},{"t":90,"v":-190},{"t":93,"v":-190},{"t":96,"v":-190},{"t":99,"v":-190},{"t":102,"v":-190},{"t":105,"v":-190},{"t":108,"v":-190},{"t":111,"v":-190},{"t":114,"v":-190},{"t":117,"v":-190},{"t":120,"v":-190},{"t":123,"v":-190},{"t":126,"v":-190},{"t":129,"v":-190},{"t":132,"v":-190},{"t":135,"v":-190},{"t":138,"v":-190},{"t":141,"v":-190},{"t":144,"v":-190},{"t":147,"v":-190},{"t":150,"v":-190},{"t":153,"v":-190},{"t":156,"v":-190},{"t":159,"v":-190},{"t":162,"v":-190},{"t":165,"v":-190},{"t":168,"v":-190},{"t":171,"v":-190},{"t":174,"v":-190},{"t":177,"v":-190},{"t":180,"v":-190},{"t":183,"v":-190},{"t":186,"v":-190},{"t":189,"v":-190},{"t":192,"v":-190},{"t":195,"v":-190},{"t":198,"v":-190},{"t":201,"v":-190},{"t":204,"v":-190},{"t":207,"v":-190},{"t":210,"v":-190},{"t":213,"v":-190},{"t":216,"v":-190},{"t":219,"v":-190},{"t":222,"v":-190},{"t":225,"v":-190},{"t":228,"v":-190},{"t":231,"v":-190},{"t":234,"v":-190},{"t":237,"v":-190},{"t":240,"v":-190},{"t":243,"v":-190},
{"t":265,"v":-190},{"t":275,"v":-190},{"t":314,"v":-190},{"t":327,"v":-190},{"t":337,"v":-190},{"t":359,"v":-190},{"t":375,"v":-190},
{"t":398,"v":-190},{"t":402,"v":-190},{"t":406,"v":-190},{"t":410,"v":-190},{"t":414,"v":-190},{"t":418,"v":-190},{"t":422,"v":-190},{"t":426,"v":-190},{"t":430,"v":-190},{"t":434,"v":-190},{"t":438,"v":-190},{"t":442,"v":-190},{"t":446,"v":-190},{"t":450,"v":-190},{"t":454,"v":-190},{"t":458,"v":-190},{"t":462,"v":-190},{"t":466,"v":-190},{"t":470,"v":-190},{"t":473,"v":-190},
{"t":432,"v":-188},{"t":434,"v":-188.2},{"t":431,"v":-189},{"t":436,"v":-189.3},{"t":433,"v":-189.6},
{"t":538,"v":-190},{"t":548,"v":-190},{"t":557,"v":-190},{"t":561,"v":-190},{"t":565,"v":-190},{"t":569,"v":-190},{"t":573,"v":-190},{"t":577,"v":-190},{"t":581,"v":-190},{"t":585,"v":-190},
{"t":626,"v":-190},{"t":635,"v":-190},{"t":639,"v":-190},{"t":643,"v":-190},{"t":647,"v":-190},{"t":651,"v":-190},{"t":655,"v":-190},{"t":659,"v":-190},{"t":663,"v":-190},{"t":667,"v":-190},{"t":671,"v":-190},{"t":675,"v":-190},{"t":679,"v":-190},
{"t":692,"v":-190},{"t":715,"v":-190},{"t":746,"v":-190},{"t":750,"v":-190},{"t":754,"v":-190},{"t":758,"v":-190},{"t":762,"v":-190},{"t":766,"v":-190},{"t":769,"v":-190},
{"t":845,"v":-190},{"t":849,"v":-190},{"t":853,"v":-190},{"t":857,"v":-190},{"t":861,"v":-190},{"t":865,"v":-190}],
"s70":[{"t":0.5,"v":30.83},{"t":17,"v":31.28},{"t":34,"v":30.86},{"t":46,"v":30.66},{"t":58,"v":30.71},{"t":71,"v":31.86},{"t":82,"v":31.44},{"t":94,"v":31.23},{"t":106,"v":31.48},{"t":118,"v":31.45},{"t":130,"v":31.27},{"t":143,"v":31.23},{"t":155,"v":31.19},{"t":167,"v":31.41},{"t":178,"v":31.37},{"t":191,"v":30.93},{"t":203,"v":31.07},{"t":214,"v":31.1},{"t":226,"v":31.31},{"t":239,"v":31.24},{"t":250,"v":31.24},{"t":262,"v":31.44},{"t":274,"v":31.37},{"t":286,"v":31.27},{"t":298,"v":31.46},{"t":315,"v":30.94},{"t":328,"v":31.06},{"t":340,"v":31.06},{"t":353,"v":31.24},{"t":364,"v":31.26},{"t":376,"v":31.16},{"t":389,"v":31.27},{"t":394,"v":31.38},{"t":405,"v":31.3},{"t":418,"v":31.03},{"t":432,"v":31.28},{"t":446,"v":31.53},{"t":463,"v":31.56},{"t":481,"v":31.38},{"t":497,"v":31.42},{"t":511,"v":31.44},{"t":527,"v":31.39},{"t":694,"v":31.33},{"t":706,"v":31.35},{"t":722,"v":31.53},{"t":730,"v":31.54},{"t":737,"v":31.38},{"t":752,"v":31.62},{"t":759,"v":31.1},{"t":767,"v":31.93},{"t":781,"v":31.8},{"t":789,"v":31.82},{"t":797,"v":31.71},{"t":812,"v":31.62},{"t":819,"v":31.13},{"t":827,"v":31.43},{"t":841,"v":31.43},{"t":850,"v":31.17},{"t":857,"v":31.51},{"t":866,"v":31.55}],
"s50":[{"t":78,"v":30.06},{"t":88,"v":31.66},{"t":106,"v":31.39},{"t":117,"v":30.66},{"t":133,"v":31.11},{"t":136,"v":30.96},{"t":147,"v":31.25},{"t":158,"v":31.09},{"t":180,"v":30.89},{"t":191,"v":30.84},{"t":212,"v":30.88},{"t":232,"v":31.09},{"t":250,"v":31.14},{"t":265,"v":31.27},{"t":278,"v":31.15},{"t":291,"v":31.09},{"t":315,"v":31},{"t":323,"v":31.12},{"t":342,"v":31},{"t":352,"v":30.94},{"t":372,"v":30.99},{"t":384,"v":31.52},{"t":403,"v":31.51},{"t":418,"v":31},{"t":431,"v":31.14},{"t":443,"v":31.21},{"t":464,"v":31.17},{"t":476,"v":31.21},{"t":496,"v":31.13},{"t":506,"v":30.9},{"t":516,"v":30.89},{"t":527,"v":31.3},{"t":537,"v":31.15},{"t":545,"v":30.91},{"t":574,"v":30.64},{"t":628,"v":30.94},{"t":644,"v":30.94},{"t":656,"v":31.12},{"t":670,"v":31.14},{"t":694,"v":31.42},{"t":716,"v":31.04},{"t":729,"v":31.42},{"t":740,"v":31.48},{"t":754,"v":30.82},{"t":762,"v":30.88},{"t":779,"v":30.91},{"t":800,"v":30.58},{"t":817,"v":31.09},{"t":823,"v":31.31},{"t":830,"v":31.73},{"t":833,"v":30.13},{"t":839,"v":31.24},{"t":848,"v":31.24},{"t":859,"v":31.05},{"t":865,"v":31.22}]
},
"config":{
"view":{"stroke":"black","strokeWidth":2},
"font":"Liberation Serif",
"axis":{"labelFont":"Liberation Serif","labelFontWeight":"bold","labelColor":"black","titleFont":"Liberation Serif","titleFontWeight":"bold","titleColor":"black","domain":false,"grid":false,"tickColor":"black","tickWidth":1.2,"labelFlush":false,"labelOverlap":false,"labelBound":false},
"text":{"font":"Liberation Serif","fontWeight":"bold","color":"black"},
"title":{"font":"Liberation Serif","fontWeight":"normal","fontSize":21,"color":"black"}
},
"spacing":6,
"vconcat":[
{"spacing":9,"bounds":"flush","vconcat":[
{"width":525,"height":217,
"title":{"text":"(a)","frame":"group","anchor":"middle","offset":8,"fontSize":21},
"layer":[
{"data":{"values":[{"t":0,"t2":45}]},"mark":{"type":"rect","fill":{"expr":"hbl"},"strokeWidth":0},"encoding":{"x":{"field":"t","type":"quantitative","scale":{"domain":[0,868],"nice":false,"zero":false},"axis":null},"x2":{"field":"t2"}}},
{"data":{"values":[{"t":63,"t2":76}]},"mark":{"type":"rect","fill":{"expr":"hgl"},"strokeWidth":0},"encoding":{"x":{"field":"t","type":"quantitative","scale":{"domain":[0,868],"nice":false,"zero":false},"axis":null},"x2":{"field":"t2"}}},
{"data":{"values":[{"t":540,"t2":681}]},"mark":{"type":"rect","fill":{"expr":"hbr"},"strokeWidth":0},"encoding":{"x":{"field":"t","type":"quantitative","scale":{"domain":[0,868],"nice":false,"zero":false},"axis":null},"x2":{"field":"t2"}}},
{"data":{"values":[{"t":540,"t2":623}]},"mark":{"type":"rect","fill":{"expr":"hgr"},"strokeWidth":0},"encoding":{"x":{"field":"t","type":"quantitative","scale":{"domain":[0,868],"nice":false,"zero":false},"axis":null},"x2":{"field":"t2"}}},
{"data":{"values":[{}]},"mark":{"type":"rule","color":"black","strokeWidth":3.5,"strokeDash":[4,3]},"encoding":{"x":{"datum":316,"scale":{"domain":[0,868],"nice":false,"zero":false},"axis":null}}},
{"data":{"name":"pw70rule"},"mark":{"type":"rule","color":"black","strokeWidth":3.5,"clip":true},"encoding":{"x":{"field":"t","type":"quantitative","scale":{"domain":[0,868],"nice":false,"zero":false},"axis":null},"y":{"field":"v","type":"quantitative","scale":{"domain":[48,201.6],"nice":false,"zero":false},"axis":null},"y2":{"field":"v2"}}},
{"data":{"name":"pw70line"},"mark":{"type":"line","color":"black","strokeWidth":5,"clip":true},"encoding":{
"x":{"field":"t","type":"quantitative","scale":{"domain":[0,868],"nice":false,"zero":false},"axis":{"orient":"bottom","values":[0,20,40,60,80,100,120,140,160,180,200,220,240,260,280,300,320,340,360,380,400,420,440,460,480,500,520,540,560,580,600,620,640,660,680,700,720,740,760,780,800,820,840,860],"tickSize":{"condition":{"test":"datum.value % 100 === 0","value":-12},"value":-6},"labels":false,"title":null}},
"y":{"field":"v","type":"quantitative","scale":{"domain":[48,201.6],"nice":false,"zero":false},"axis":{"orient":"left","values":[50,60,70,80,90,100,110,120,130,140,150,160,170,180,190,200],"tickSize":{"condition":{"test":"datum.value % 50 === 0","value":-12},"value":-6},"labelExpr":"datum.value % 50 === 0 ? format(datum.value,'d') : ''","labelFontSize":22,"labelPadding":13,"title":"Power (W)","titleFontSize":27,"titlePadding":16}},
"detail":{"field":"g","type":"nominal"}}},
{"data":{"name":"pw70pt"},"mark":{"type":"point","filled":true,"size":18,"color":"black","opacity":1,"clip":true},"encoding":{"x":{"field":"t","type":"quantitative","scale":{"domain":[0,868],"nice":false,"zero":false},"axis":null},"y":{"field":"v","type":"quantitative","scale":{"domain":[48,201.6],"nice":false,"zero":false},"axis":null}}},
{"data":{"name":"pw50"},"mark":{"type":"point","filled":false,"size":45,"strokeWidth":1.5,"color":"red","opacity":1,"clip":true},"encoding":{"x":{"field":"t","type":"quantitative","scale":{"domain":[0,868],"nice":false,"zero":false},"axis":null},"y":{"field":"v","type":"quantitative","scale":{"domain":[48,201.6],"nice":false,"zero":false},"axis":null}}},
{"data":{"values":[{}]},"mark":{"type":"text","text":"Ambient Temperature","fontSize":25,"color":"#808080","align":"center","baseline":"middle"},"encoding":{"x":{"datum":299,"scale":{"domain":[0,868],"nice":false,"zero":false},"axis":null},"y":{"datum":183,"scale":{"domain":[48,201.6],"nice":false,"zero":false},"axis":null}}},
{"data":{"values":[{}]},"mark":{"type":"text","text":"Drop","fontSize":25,"color":"#808080","align":"center","baseline":"middle"},"encoding":{"x":{"datum":243,"scale":{"domain":[0,868],"nice":false,"zero":false},"axis":null},"y":{"datum":167.5,"scale":{"domain":[48,201.6],"nice":false,"zero":false},"axis":null}}},
{"data":{"values":[{}]},"mark":{"type":"rule","color":"#808080","strokeWidth":3},"encoding":{
"x":{"datum":294,"scale":{"domain":[0,868],"nice":false,"zero":false},"axis":{"orient":"top","values":[0,20,40,60,80,100,120,140,160,180,200,220,240,260,280,300,320,340,360,380,400,420,440,460,480,500,520,540,560,580,600,620,640,660,680,700,720,740,760,780,800,820,840,860],"tickSize":{"condition":{"test":"datum.value % 100 === 0","value":-9},"value":-5},"labels":false,"title":null}},
"y":{"datum":164.6,"scale":{"domain":[48,201.6],"nice":false,"zero":false},"axis":{"orient":"right","values":[50,60,70,80,90,100,110,120,130,140,150,160,170,180,190,200],"tickSize":{"condition":{"test":"datum.value % 50 === 0","value":-12},"value":-6},"labels":false,"title":null}},
"x2":{"datum":428},"y2":{"datum":143.8}}},
{"data":{"values":[{}]},"mark":{"type":"rule","color":"#808080","strokeWidth":3},"encoding":{"x":{"datum":294,"scale":{"domain":[0,868],"nice":false,"zero":false},"axis":null},"y":{"datum":164.6,"scale":{"domain":[48,201.6],"nice":false,"zero":false},"axis":null},"x2":{"datum":463},"y2":{"datum":126.8}}},
{"data":{"values":[{}]},"mark":{"type":"point","shape":"M1,0L-1,-0.6L-1,0.6Z","size":256,"angle":20,"filled":true,"color":"#808080","opacity":1},"encoding":{"x":{"datum":427.3,"scale":{"domain":[0,868],"nice":false,"zero":false},"axis":null},"y":{"datum":143.9,"scale":{"domain":[48,201.6],"nice":false,"zero":false},"axis":null}}},
{"data":{"values":[{}]},"mark":{"type":"point","shape":"M1,0L-1,-0.6L-1,0.6Z","size":256,"angle":27.6,"filled":true,"color":"#808080","opacity":1},"encoding":{"x":{"datum":462.6,"scale":{"domain":[0,868],"nice":false,"zero":false},"axis":null},"y":{"datum":126.9,"scale":{"domain":[48,201.6],"nice":false,"zero":false},"axis":null}}},
{"data":{"values":[{}]},"mark":{"type":"rect","color":"black"},"encoding":{"x":{"datum":743.8,"scale":{"domain":[0,868],"nice":false,"zero":false},"axis":null},"x2":{"datum":862.8},"y":{"datum":190.1,"scale":{"domain":[48,201.6],"nice":false,"zero":false},"axis":null},"y2":{"datum":142}}},
{"data":{"values":[{}]},"mark":{"type":"rect","fill":"white","stroke":"black","strokeWidth":1.5},"encoding":{"x":{"datum":737.2,"scale":{"domain":[0,868],"nice":false,"zero":false},"axis":null},"x2":{"datum":856.2},"y":{"datum":192.9,"scale":{"domain":[48,201.6],"nice":false,"zero":false},"axis":null},"y2":{"datum":144.8}}},
{"data":{"values":[{}]},"mark":{"type":"point","filled":true,"size":50,"color":"black","opacity":1},"encoding":{"x":{"datum":753.2,"scale":{"domain":[0,868],"nice":false,"zero":false},"axis":null},"y":{"datum":181.1,"scale":{"domain":[48,201.6],"nice":false,"zero":false},"axis":null}}},
{"data":{"values":[{}]},"mark":{"type":"point","filled":false,"size":55,"strokeWidth":1.5,"color":"red","opacity":1},"encoding":{"x":{"datum":755.9,"scale":{"domain":[0,868],"nice":false,"zero":false},"axis":null},"y":{"datum":160.4,"scale":{"domain":[48,201.6],"nice":false,"zero":false},"axis":null}}},
{"data":{"values":[{}]},"mark":{"type":"text","text":"D₇₀","fontSize":23,"align":"left","baseline":"middle"},"encoding":{"x":{"datum":767,"scale":{"domain":[0,868],"nice":false,"zero":false},"axis":null},"y":{"datum":179.5,"scale":{"domain":[48,201.6],"nice":false,"zero":false},"axis":null}}},
{"data":{"values":[{}]},"mark":{"type":"text","text":"D₅₀","fontSize":23,"color":"red","align":"left","baseline":"middle"},"encoding":{"x":{"datum":769.8,"scale":{"domain":[0,868],"nice":false,"zero":false},"axis":null},"y":{"datum":159.3,"scale":{"domain":[48,201.6],"nice":false,"zero":false},"axis":null}}}
],
"resolve":{"axis":{"x":"independent","y":"independent"}}},
{"width":525,"height":212,
"layer":[
{"data":{"values":[{"t":0,"t2":45}]},"mark":{"type":"rect","fill":{"expr":"hbl"},"strokeWidth":0},"encoding":{"x":{"field":"t","type":"quantitative","scale":{"domain":[0,868],"nice":false,"zero":false},"axis":null},"x2":{"field":"t2"}}},
{"data":{"values":[{"t":63,"t2":76}]},"mark":{"type":"rect","fill":{"expr":"hgl"},"strokeWidth":0},"encoding":{"x":{"field":"t","type":"quantitative","scale":{"domain":[0,868],"nice":false,"zero":false},"axis":null},"x2":{"field":"t2"}}},
{"data":{"values":[{"t":540,"t2":681}]},"mark":{"type":"rect","fill":{"expr":"hbr"},"strokeWidth":0},"encoding":{"x":{"field":"t","type":"quantitative","scale":{"domain":[0,868],"nice":false,"zero":false},"axis":null},"x2":{"field":"t2"}}},
{"data":{"values":[{"t":540,"t2":623}]},"mark":{"type":"rect","fill":{"expr":"hgr"},"strokeWidth":0},"encoding":{"x":{"field":"t","type":"quantitative","scale":{"domain":[0,868],"nice":false,"zero":false},"axis":null},"x2":{"field":"t2"}}},
{"data":{"values":[{}]},"mark":{"type":"rule","color":"black","strokeWidth":3.5,"strokeDash":[4,3]},"encoding":{"x":{"datum":316,"scale":{"domain":[0,868],"nice":false,"zero":false},"axis":null}}},
{"data":{"name":"tc70rule"},"mark":{"type":"rule","color":"black","strokeWidth":3.5,"strokeDash":[3,1.5],"clip":true},"encoding":{"x":{"field":"t","type":"quantitative","scale":{"domain":[0,868],"nice":false,"zero":false},"axis":null},"y":{"field":"v","type":"quantitative","scale":{"domain":[-205.1,-174.9],"nice":false,"zero":false},"axis":null},"y2":{"field":"v2"}}},
{"data":{"name":"tc70line"},"mark":{"type":"line","color":"black","strokeWidth":5,"clip":true},"encoding":{
"x":{"field":"t","type":"quantitative","scale":{"domain":[0,868],"nice":false,"zero":false},"axis":{"orient":"bottom","values":[0,20,40,60,80,100,120,140,160,180,200,220,240,260,280,300,320,340,360,380,400,420,440,460,480,500,520,540,560,580,600,620,640,660,680,700,720,740,760,780,800,820,840,860],"tickSize":{"condition":{"test":"datum.value % 100 === 0","value":-12},"value":-6},"labelExpr":"datum.value % 100 === 0 ? format(datum.value,'d') : ''","labelFontSize":24,"labelPadding":6,"title":"Time (days)","titleFontSize":28,"titlePadding":1}},
"y":{"field":"v","type":"quantitative","scale":{"domain":[-205.1,-174.9],"nice":false,"zero":false},"axis":{"orient":"left","values":[-204,-202,-200,-198,-196,-194,-192,-190,-188,-186,-184,-182,-180,-178,-176],"tickSize":{"condition":{"test":"datum.value % 10 === 0","value":-12},"value":-6},"labelExpr":"datum.value % 10 === 0 ? format(datum.value,'d') : ''","labelFontSize":22,"labelPadding":13,"title":null}},
"detail":{"field":"g","type":"nominal"}}},
{"data":{"name":"tc70pt"},"mark":{"type":"point","filled":true,"size":22,"color":"black","opacity":1,"clip":true},"encoding":{"x":{"field":"t","type":"quantitative","scale":{"domain":[0,868],"nice":false,"zero":false},"axis":null},"y":{"field":"v","type":"quantitative","scale":{"domain":[-205.1,-174.9],"nice":false,"zero":false},"axis":null}}},
{"data":{"name":"tc50"},"mark":{"type":"point","filled":false,"size":50,"strokeWidth":1.6,"color":"red","opacity":1,"clip":true},"encoding":{"x":{"field":"t","type":"quantitative","scale":{"domain":[0,868],"nice":false,"zero":false},"axis":null},"y":{"field":"v","type":"quantitative","scale":{"domain":[-205.1,-174.9],"nice":false,"zero":false},"axis":null}}},
{"data":{"values":[{}]},"mark":{"type":"text","text":"T","angle":270,"fontSize":32,"fontStyle":"italic","align":"center","baseline":"middle"},"encoding":{"x":{"datum":-110,"scale":{"domain":[0,868],"nice":false,"zero":false},"axis":null},"y":{"datum":-198.3,"scale":{"domain":[-205.1,-174.9],"nice":false,"zero":false},"axis":null}}},
{"data":{"values":[{}]},"mark":{"type":"text","text":"Cold-tip","angle":270,"fontSize":20,"align":"center","baseline":"middle"},"encoding":{"x":{"datum":-93,"scale":{"domain":[0,868],"nice":false,"zero":false},"axis":null},"y":{"datum":-192.4,"scale":{"domain":[-205.1,-174.9],"nice":false,"zero":false},"axis":null}}},
{"data":{"values":[{}]},"mark":{"type":"text","text":"(°C)","angle":270,"fontSize":28,"align":"center","baseline":"middle"},"encoding":{"x":{"datum":-110,"scale":{"domain":[0,868],"nice":false,"zero":false},"axis":null},"y":{"datum":-182.9,"scale":{"domain":[-205.1,-174.9],"nice":false,"zero":false},"axis":null}}},
{"data":{"values":[{}]},"mark":{"type":"text","text":"Reactor ON","fontSize":25,"align":"left","baseline":"middle"},"encoding":{"x":{"datum":97.5,"scale":{"domain":[0,868],"nice":false,"zero":false},"axis":null},"y":{"datum":-183.9,"scale":{"domain":[-205.1,-174.9],"nice":false,"zero":false},"axis":null}}},
{"data":{"values":[{}]},"mark":{"type":"text","text":"Reactor OFF","fontSize":25,"align":"left","baseline":"middle"},"encoding":{"x":{"datum":325.6,"scale":{"domain":[0,868],"nice":false,"zero":false},"axis":null},"y":{"datum":-198,"scale":{"domain":[-205.1,-174.9],"nice":false,"zero":false},"axis":null}}},
{"data":{"values":[{}]},"mark":{"type":"rule","color":"black","strokeWidth":3},"encoding":{
"x":{"datum":316,"scale":{"domain":[0,868],"nice":false,"zero":false},"axis":{"orient":"top","values":[0,20,40,60,80,100,120,140,160,180,200,220,240,260,280,300,320,340,360,380,400,420,440,460,480,500,520,540,560,580,600,620,640,660,680,700,720,740,760,780,800,820,840,860],"tickSize":{"condition":{"test":"datum.value % 100 === 0","value":-9},"value":-5},"labels":false,"title":null}},
"y":{"datum":-186.5,"scale":{"domain":[-205.1,-174.9],"nice":false,"zero":false},"axis":{"orient":"right","values":[-204,-202,-200,-198,-196,-194,-192,-190,-188,-186,-184,-182,-180,-178,-176],"tickSize":{"condition":{"test":"datum.value % 10 === 0","value":-12},"value":-6},"labels":false,"title":null}},
"x2":{"datum":215}}},
{"data":{"values":[{}]},"mark":{"type":"rule","color":"black","strokeWidth":3},"encoding":{"x":{"datum":316,"scale":{"domain":[0,868],"nice":false,"zero":false},"axis":null},"y":{"datum":-195.6,"scale":{"domain":[-205.1,-174.9],"nice":false,"zero":false},"axis":null},"x2":{"datum":412}}},
{"data":{"values":[{}]},"mark":{"type":"point","shape":"M-1,0L1,-0.6L1,0.6Z","size":484,"filled":true,"color":"black","opacity":1},"encoding":{"x":{"datum":211.6,"scale":{"domain":[0,868],"nice":false,"zero":false},"axis":null},"y":{"datum":-186.5,"scale":{"domain":[-205.1,-174.9],"nice":false,"zero":false},"axis":null}}},
{"data":{"values":[{}]},"mark":{"type":"point","shape":"M1,0L-1,-0.6L-1,0.6Z","size":484,"filled":true,"color":"black","opacity":1},"encoding":{"x":{"datum":416,"scale":{"domain":[0,868],"nice":false,"zero":false},"axis":null},"y":{"datum":-195.6,"scale":{"domain":[-205.1,-174.9],"nice":false,"zero":false},"axis":null}}}
],
"resolve":{"axis":{"x":"independent","y":"independent"}}}
]},
{"spacing":13,"bounds":"flush","vconcat":[
{"width":525,"height":214,
"title":{"text":"(b)","frame":"group","anchor":"middle","offset":12,"fontSize":21},
"layer":[
{"data":{"values":[{"t":0,"t2":45}]},"mark":{"type":"rect","fill":{"expr":"hbl"},"strokeWidth":0},"encoding":{"x":{"field":"t","type":"quantitative","scale":{"domain":[0,868],"nice":false,"zero":false},"axis":null},"x2":{"field":"t2"}}},
{"data":{"values":[{"t":63,"t2":76}]},"mark":{"type":"rect","fill":{"expr":"hgl"},"strokeWidth":0},"encoding":{"x":{"field":"t","type":"quantitative","scale":{"domain":[0,868],"nice":false,"zero":false},"axis":null},"x2":{"field":"t2"}}},
{"data":{"values":[{"t":540,"t2":681}]},"mark":{"type":"rect","fill":{"expr":"hbr"},"strokeWidth":0},"encoding":{"x":{"field":"t","type":"quantitative","scale":{"domain":[0,868],"nice":false,"zero":false},"axis":null},"x2":{"field":"t2"}}},
{"data":{"values":[{"t":540,"t2":623}]},"mark":{"type":"rect","fill":{"expr":"hgr"},"strokeWidth":0},"encoding":{"x":{"field":"t","type":"quantitative","scale":{"domain":[0,868],"nice":false,"zero":false},"axis":null},"x2":{"field":"t2"}}},
{"data":{"values":[{}]},"mark":{"type":"rule","color":"black","strokeWidth":3.5,"strokeDash":[4,3]},"encoding":{"x":{"datum":316,"scale":{"domain":[0,868],"nice":false,"zero":false},"axis":null}}},
{"data":{"values":[{}]},"mark":{"type":"rule","color":"#0000ff","strokeWidth":3.5,"strokeDash":[21,7]},"encoding":{"y":{"datum":31.32,"scale":{"domain":[29.92,33.14],"nice":false,"zero":false},"axis":null}}},
{"data":{"name":"s70"},"mark":{"type":"square","size":64,"filled":true,"color":"black","opacity":1,"clip":true},"encoding":{
"x":{"field":"t","type":"quantitative","scale":{"domain":[0,868],"nice":false,"zero":false},"axis":{"orient":"bottom","values":[0,20,40,60,80,100,120,140,160,180,200,220,240,260,280,300,320,340,360,380,400,420,440,460,480,500,520,540,560,580,600,620,640,660,680,700,720,740,760,780,800,820,840,860],"tickSize":{"condition":{"test":"datum.value % 100 === 0","value":-12},"value":-6},"labels":false,"title":null}},
"y":{"field":"v","type":"quantitative","scale":{"domain":[29.92,33.14],"nice":false,"zero":false},"axis":{"orient":"left","values":[30,30.2,30.4,30.6,30.8,31,31.2,31.4,31.6,31.8,32,32.2,32.4,32.6,32.8,33],"tickSize":{"condition":{"test":"abs(datum.value - round(datum.value)) < 0.01","value":-12},"value":-6},"labelExpr":"abs(datum.value - round(datum.value)) < 0.01 ? format(datum.value,'d') : ''","labelFontSize":24,"labelPadding":13,"title":null}}}},
{"data":{"values":[{}]},"mark":{"type":"rect","color":"black"},"encoding":{"x":{"datum":755.4,"scale":{"domain":[0,868],"nice":false,"zero":false},"axis":null},"x2":{"datum":849.6},"y":{"datum":32.697,"scale":{"domain":[29.92,33.14],"nice":false,"zero":false},"axis":null},"y2":{"datum":31.879}}},
{"data":{"values":[{}]},"mark":{"type":"rect","fill":"white","stroke":"black","strokeWidth":1.5},"encoding":{"x":{"datum":750.4,"scale":{"domain":[0,868],"nice":false,"zero":false},"axis":null},"x2":{"datum":844.6},"y":{"datum":32.742,"scale":{"domain":[29.92,33.14],"nice":false,"zero":false},"axis":null},"y2":{"datum":31.924}}},
{"data":{"values":[{}]},"mark":{"type":"text","text":"D₇₀","fontSize":28,"align":"center","baseline":"middle"},"encoding":{"x":{"datum":797.5,"scale":{"domain":[0,868],"nice":false,"zero":false},"axis":null},"y":{"datum":32.333,"scale":{"domain":[29.92,33.14],"nice":false,"zero":false},"axis":null}}},
{"data":{"values":[{}]},"mark":{"type":"text","text":"(eV)","angle":270,"fontSize":28,"align":"center","baseline":"middle"},"encoding":{"x":{"datum":-107,"scale":{"domain":[0,868],"nice":false,"zero":false},"axis":null},"y":{"datum":30.33,"scale":{"domain":[29.92,33.14],"nice":false,"zero":false},"axis":null}}},
{"data":{"values":[{}]},"mark":{"type":"text","text":"Reactor ON","fontSize":25,"align":"left","baseline":"middle"},"encoding":{"x":{"datum":67.8,"scale":{"domain":[0,868],"nice":false,"zero":false},"axis":null},"y":{"datum":32.47,"scale":{"domain":[29.92,33.14],"nice":false,"zero":false},"axis":null}}},
{"data":{"values":[{}]},"mark":{"type":"text","text":"Reactor OFF","fontSize":25,"align":"left","baseline":"middle"},"encoding":{"x":{"datum":324,"scale":{"domain":[0,868],"nice":false,"zero":false},"axis":null},"y":{"datum":30.59,"scale":{"domain":[29.92,33.14],"nice":false,"zero":false},"axis":null}}},
{"data":{"values":[{}]},"mark":{"type":"rule","color":"black","strokeWidth":3},"encoding":{
"x":{"datum":316,"scale":{"domain":[0,868],"nice":false,"zero":false},"axis":{"orient":"top","values":[0,20,40,60,80,100,120,140,160,180,200,220,240,260,280,300,320,340,360,380,400,420,440,460,480,500,520,540,560,580,600,620,640,660,680,700,720,740,760,780,800,820,840,860],"tickSize":{"condition":{"test":"datum.value % 100 === 0","value":-9},"value":-5},"labels":false,"title":null}},
"y":{"datum":32.19,"scale":{"domain":[29.92,33.14],"nice":false,"zero":false},"axis":{"orient":"right","values":[30,30.2,30.4,30.6,30.8,31,31.2,31.4,31.6,31.8,32,32.2,32.4,32.6,32.8,33],"tickSize":{"condition":{"test":"abs(datum.value - round(datum.value)) < 0.01","value":-12},"value":-6},"labels":false,"title":null}},
"x2":{"datum":215}}},
{"data":{"values":[{}]},"mark":{"type":"rule","color":"black","strokeWidth":3},"encoding":{"x":{"datum":316,"scale":{"domain":[0,868],"nice":false,"zero":false},"axis":null},"y":{"datum":30.29,"scale":{"domain":[29.92,33.14],"nice":false,"zero":false},"axis":null},"x2":{"datum":410}}},
{"data":{"values":[{}]},"mark":{"type":"point","shape":"M-1,0L1,-0.6L1,0.6Z","size":484,"filled":true,"color":"black","opacity":1},"encoding":{"x":{"datum":211.6,"scale":{"domain":[0,868],"nice":false,"zero":false},"axis":null},"y":{"datum":32.19,"scale":{"domain":[29.92,33.14],"nice":false,"zero":false},"axis":null}}},
{"data":{"values":[{}]},"mark":{"type":"point","shape":"M1,0L-1,-0.6L-1,0.6Z","size":484,"filled":true,"color":"black","opacity":1},"encoding":{"x":{"datum":413,"scale":{"domain":[0,868],"nice":false,"zero":false},"axis":null},"y":{"datum":30.29,"scale":{"domain":[29.92,33.14],"nice":false,"zero":false},"axis":null}}}
],
"resolve":{"axis":{"x":"independent","y":"independent"}}},
{"width":525,"height":215,
"layer":[
{"data":{"values":[{"t":0,"t2":45}]},"mark":{"type":"rect","fill":{"expr":"hbl"},"strokeWidth":0},"encoding":{"x":{"field":"t","type":"quantitative","scale":{"domain":[0,868],"nice":false,"zero":false},"axis":null},"x2":{"field":"t2"}}},
{"data":{"values":[{"t":63,"t2":76}]},"mark":{"type":"rect","fill":{"expr":"hgl"},"strokeWidth":0},"encoding":{"x":{"field":"t","type":"quantitative","scale":{"domain":[0,868],"nice":false,"zero":false},"axis":null},"x2":{"field":"t2"}}},
{"data":{"values":[{"t":540,"t2":681}]},"mark":{"type":"rect","fill":{"expr":"hbr"},"strokeWidth":0},"encoding":{"x":{"field":"t","type":"quantitative","scale":{"domain":[0,868],"nice":false,"zero":false},"axis":null},"x2":{"field":"t2"}}},
{"data":{"values":[{"t":540,"t2":623}]},"mark":{"type":"rect","fill":{"expr":"hgr"},"strokeWidth":0},"encoding":{"x":{"field":"t","type":"quantitative","scale":{"domain":[0,868],"nice":false,"zero":false},"axis":null},"x2":{"field":"t2"}}},
{"data":{"values":[{}]},"mark":{"type":"rule","color":"black","strokeWidth":3.5,"strokeDash":[4,3]},"encoding":{"x":{"datum":316,"scale":{"domain":[0,868],"nice":false,"zero":false},"axis":null}}},
{"data":{"values":[{}]},"mark":{"type":"rule","color":"#0000ff","strokeWidth":3.5,"strokeDash":[10,4,3,4]},"encoding":{
"x":{"datum":78,"scale":{"domain":[0,868],"nice":false,"zero":false},"axis":{"orient":"top","values":[0,20,40,60,80,100,120,140,160,180,200,220,240,260,280,300,320,340,360,380,400,420,440,460,480,500,520,540,560,580,600,620,640,660,680,700,720,740,760,780,800,820,840,860],"tickSize":{"condition":{"test":"datum.value % 100 === 0","value":-9},"value":-5},"labels":false,"title":null}},
"x2":{"datum":868},
"y":{"datum":31.08,"scale":{"domain":[29.88,33.18],"nice":false,"zero":false},"axis":{"orient":"right","values":[30,30.2,30.4,30.6,30.8,31,31.2,31.4,31.6,31.8,32,32.2,32.4,32.6,32.8,33],"tickSize":{"condition":{"test":"abs(datum.value - round(datum.value)) < 0.01","value":-12},"value":-6},"labels":false,"title":null}}}},
{"data":{"name":"s50"},"mark":{"type":"circle","size":70,"color":"red","opacity":1,"clip":true},"encoding":{
"x":{"field":"t","type":"quantitative","scale":{"domain":[0,868],"nice":false,"zero":false},"axis":{"orient":"bottom","values":[0,20,40,60,80,100,120,140,160,180,200,220,240,260,280,300,320,340,360,380,400,420,440,460,480,500,520,540,560,580,600,620,640,660,680,700,720,740,760,780,800,820,840,860],"tickSize":{"condition":{"test":"datum.value % 100 === 0","value":-12},"value":-6},"labelExpr":"datum.value % 100 === 0 ? format(datum.value,'d') : ''","labelFontSize":24,"labelPadding":6,"title":"Time (days)","titleFontSize":28,"titlePadding":1}},
"y":{"field":"v","type":"quantitative","scale":{"domain":[29.88,33.18],"nice":false,"zero":false},"axis":{"orient":"left","values":[30,30.2,30.4,30.6,30.8,31,31.2,31.4,31.6,31.8,32,32.2,32.4,32.6,32.8,33],"tickSize":{"condition":{"test":"abs(datum.value - round(datum.value)) < 0.01","value":-12},"value":-6},"labelExpr":"abs(datum.value - round(datum.value)) < 0.01 ? format(datum.value,'d') : ''","labelFontSize":24,"labelPadding":13,"title":null}}}},
{"data":{"values":[{}]},"mark":{"type":"rect","color":"black"},"encoding":{"x":{"datum":757,"scale":{"domain":[0,868],"nice":false,"zero":false},"axis":null},"x2":{"datum":848},"y":{"datum":32.816,"scale":{"domain":[29.88,33.18],"nice":false,"zero":false},"axis":null},"y2":{"datum":31.969}}},
{"data":{"values":[{}]},"mark":{"type":"rect","fill":"white","stroke":"black","strokeWidth":1.5},"encoding":{"x":{"datum":752,"scale":{"domain":[0,868],"nice":false,"zero":false},"axis":null},"x2":{"datum":843},"y":{"datum":32.862,"scale":{"domain":[29.88,33.18],"nice":false,"zero":false},"axis":null},"y2":{"datum":32.015}}},
{"data":{"values":[{}]},"mark":{"type":"text","text":"D₅₀","fontSize":28,"color":"red","align":"center","baseline":"middle"},"encoding":{"x":{"datum":797.5,"scale":{"domain":[0,868],"nice":false,"zero":false},"axis":null},"y":{"datum":32.438,"scale":{"domain":[29.88,33.18],"nice":false,"zero":false},"axis":null}}},
{"data":{"values":[{}]},"mark":{"type":"text","text":"σ","angle":270,"fontSize":32,"fontStyle":"italic","align":"center","baseline":"middle"},"encoding":{"x":{"datum":-110,"scale":{"domain":[0,868],"nice":false,"zero":false},"axis":null},"y":{"datum":32.62,"scale":{"domain":[29.88,33.18],"nice":false,"zero":false},"axis":null}}},
{"data":{"values":[{}]},"mark":{"type":"text","text":"ped","angle":270,"fontSize":20,"fontStyle":"italic","align":"center","baseline":"middle"},"encoding":{"x":{"datum":-91,"scale":{"domain":[0,868],"nice":false,"zero":false},"axis":null},"y":{"datum":33.02,"scale":{"domain":[29.88,33.18],"nice":false,"zero":false},"axis":null}}}
],
"resolve":{"axis":{"x":"independent","y":"independent"}}}
]}
]
}
